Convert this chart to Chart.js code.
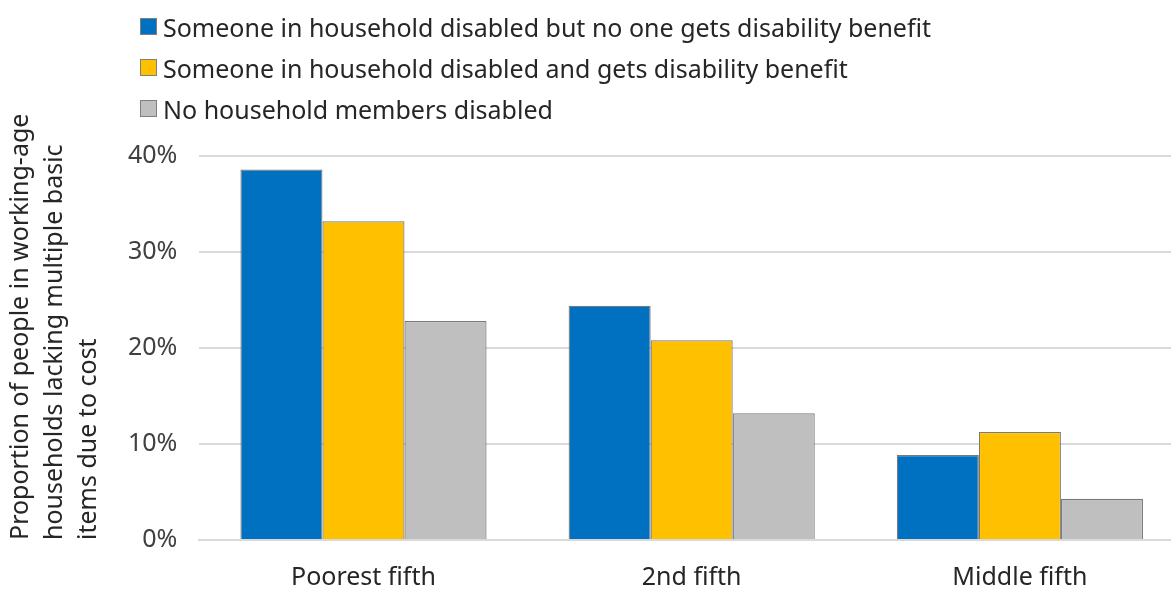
<!DOCTYPE html>
<html lang="en">
<head>
    <meta charset="UTF-8">
    <title>Material deprivation by disability status</title>
    <script src="https://cdn.jsdelivr.net/npm/chart.js"></script>
    <style>
        body {
            margin: 0;
            background: #fff;
            overflow: hidden;
            font-family: "Noto Sans", sans-serif;
        }
        #wrap {
            position: relative;
            width: 1184px;
            height: 616px;
        }
        #legend {
            position: absolute;
            left: 140px;
            top: 6px;
            font-size: 25px;
            color: #262626;
        }
        .item {
            display: flex;
            align-items: center;
            height: 41px;
        }
        .box {
            width: 15px;
            height: 15px;
            margin-right: 6px;
            border: 1px solid #7f7f7f;
        }
    </style>
</head>
<body>
    <div id="wrap">
        <canvas id="grafica"></canvas>
        <div id="legend"></div>
    </div>
    <script>
        const categories = ['Poorest fifth', '2nd fifth', 'Middle fifth'];
        const seriesNames = [
            'Someone in household disabled but no one gets disability benefit',
            'Someone in household disabled and gets disability benefit',
            'No household members disabled'
        ];
        const noBenefit = [38.6, 24.4, 8.85];
        const withBenefit = [33.2, 20.8, 11.25];
        const noneDisabled = [22.8, 13.2, 4.3];
        const yTicks = [0, 10, 20, 30, 40];

        const colores = ['#0070C0', '#FFC000', '#BFBFBF'];
        const valores = [noBenefit, withBenefit, noneDisabled];

        // leyenda en HTML, una fila por serie
        const legend = document.getElementById('legend');
        seriesNames.forEach((name, i) => {
            legend.innerHTML += `<div class="item"><span class="box" style="background:${colores[i]}"></span>${name}</div>`;
        });

        const ctx = document.getElementById('grafica').getContext('2d');
        new Chart(ctx, {
            type: 'bar',
            data: {
                labels: categories,
                datasets: seriesNames.map((name, i) => ({
                    label: name,
                    data: valores[i],
                    backgroundColor: colores[i],
                    borderColor: '#7a7a7a',
                    borderWidth: 1.2,
                    categoryPercentage: 0.75,
                    barPercentage: 1
                }))
            },
            options: {
                responsive: true,
                maintainAspectRatio: false,
                animation: false,
                layout: { padding: { top: 156, left: 4, right: 0, bottom: 0 } },
                plugins: {
                    legend: { display: false },
                    tooltip: { enabled: false }
                },
                scales: {
                    x: {
                        grid: { display: false, drawTicks: false },
                        border: { color: '#d9d9d9', width: 2 },
                        ticks: {
                            color: '#262626',
                            padding: 23,
                            font: { family: 'Noto Sans', size: 25 }
                        }
                    },
                    y: {
                        min: 0,
                        max: 40,
                        afterBuildTicks: (axis) => {
                            axis.ticks = yTicks.map(v => ({ value: v }));
                        },
                        grid: { color: '#d9d9d9', lineWidth: 2, drawTicks: false },
                        border: { display: false },
                        ticks: {
                            color: '#404040',
                            padding: 22,
                            font: { family: 'Noto Sans', size: 25 },
                            callback: (v) => v + '%'
                        },
                        title: {
                            display: true,
                            align: 'start',
                            text: ['Proportion of people in working-age', 'households lacking multiple basic', 'items due to cost'],
                            color: '#262626',
                            font: { family: 'Noto Sans', size: 25, lineHeight: 1.36 },
                            padding: { top: 0, bottom: 0 }
                        }
                    }
                }
            }
        });
    </script>
</body>
</html>
